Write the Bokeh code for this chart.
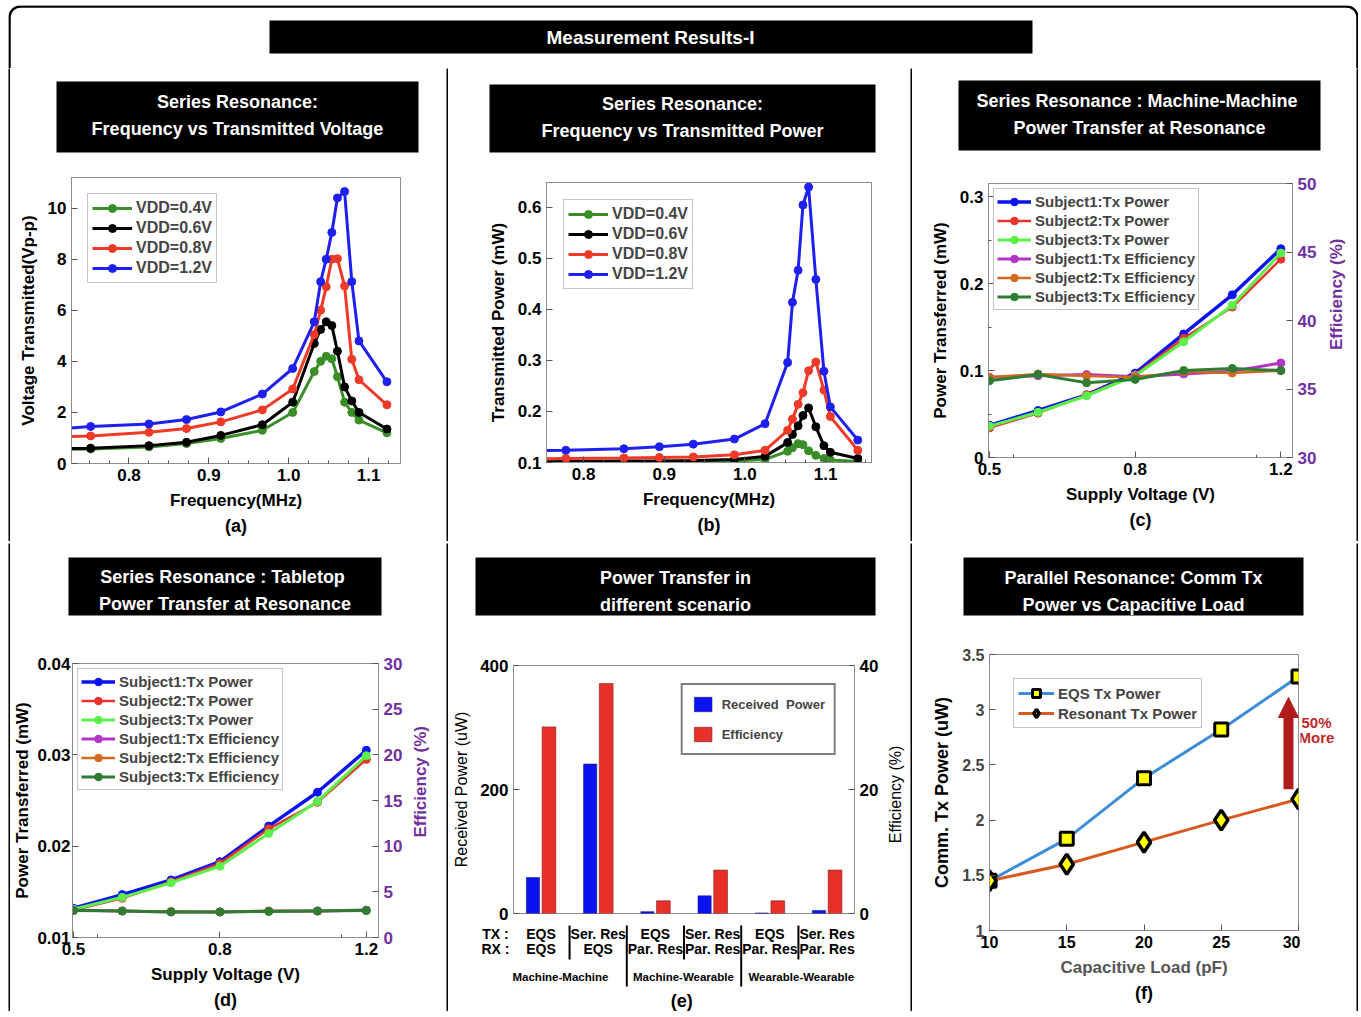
import math
from bokeh.plotting import figure
from bokeh.layouts import column, row
from bokeh.models import (Range1d, LinearAxis, FixedTicker, SingleIntervalTicker, Arrow,
                          NormalHead, Title, NumeralTickFormatter, ColumnDataSource, Spacer)
from bokeh.transform import dodge
from bokeh.core.properties import value
from bokeh.embed import file_html
from bokeh.resources import INLINE

# ---------------------------------------------------------------- data
# (a) Frequency (MHz) vs transmitted voltage (Vp-p)
freq_a = [0.720, 0.752, 0.825, 0.872, 0.915, 0.967, 1.005, 1.032, 1.040, 1.047, 1.054, 1.061, 1.070, 1.079, 1.088, 1.123]
volt_vdd04 = [0.55, 0.57, 0.65, 0.78, 0.98, 1.30, 2.00, 3.60, 4.00, 4.20, 4.10, 3.40, 2.40, 2.00, 1.70, 1.20]
volt_vdd06 = [0.58, 0.60, 0.70, 0.83, 1.10, 1.52, 2.40, 4.70, 5.25, 5.55, 5.40, 4.40, 3.00, 2.45, 2.00, 1.35]
volt_vdd08 = [1.05, 1.08, 1.22, 1.37, 1.63, 2.10, 2.92, 5.05, 6.00, 6.92, 8.00, 8.02, 6.95, 4.08, 3.28, 2.30]
volt_vdd12 = [1.37, 1.45, 1.55, 1.72, 2.02, 2.72, 3.72, 5.55, 7.12, 8.00, 9.05, 10.40, 10.65, 7.12, 4.80, 3.20]

# (b) Frequency (MHz) vs transmitted power (mW)
freq_b = [0.740, 0.778, 0.850, 0.894, 0.936, 0.987, 1.025, 1.053, 1.059, 1.066, 1.072, 1.079, 1.088, 1.098, 1.106, 1.140]
pwr_vdd04 = [0.100, 0.100, 0.100, 0.101, 0.101, 0.103, 0.106, 0.122, 0.129, 0.137, 0.135, 0.123, 0.114, 0.108, 0.105, 0.102]
pwr_vdd06 = [0.101, 0.102, 0.103, 0.103, 0.104, 0.106, 0.112, 0.139, 0.155, 0.172, 0.192, 0.207, 0.170, 0.133, 0.120, 0.108]
pwr_vdd08 = [0.107, 0.108, 0.109, 0.110, 0.111, 0.115, 0.124, 0.163, 0.185, 0.214, 0.237, 0.280, 0.297, 0.242, 0.190, 0.124]
pwr_vdd12 = [0.123, 0.124, 0.127, 0.131, 0.136, 0.146, 0.176, 0.296, 0.414, 0.477, 0.605, 0.640, 0.459, 0.279, 0.209, 0.144]
vdd_labels = ["VDD=0.4V", "VDD=0.6V", "VDD=0.8V", "VDD=1.2V"]

# (c)/(d) supply voltage steps (7 equally spaced measurement points), tick labels
supply_step = [0, 1, 2, 3, 4, 5, 6]
supply_tick_pos = [0, 3, 6]
supply_tick_labels = ["0.5", "0.8", "1.2"]

# (c) Machine-Machine
mm_power_s1 = [0.037, 0.054, 0.072, 0.097, 0.142, 0.187, 0.240]
mm_power_s2 = [0.034, 0.051, 0.072, 0.095, 0.137, 0.173, 0.228]
mm_power_s3 = [0.036, 0.052, 0.071, 0.094, 0.133, 0.175, 0.235]
mm_eff_s1 = [35.85, 35.97, 36.05, 35.90, 36.10, 36.30, 36.90]
mm_eff_s2 = [35.85, 36.10, 35.95, 35.85, 36.25, 36.17, 36.34]
mm_eff_s3 = [35.60, 36.05, 35.45, 35.70, 36.35, 36.50, 36.35]

# (d) Tabletop
tt_power_s1 = [0.0132, 0.0147, 0.0163, 0.0183, 0.0222, 0.0259, 0.0305]
tt_power_s2 = [0.0130, 0.0143, 0.0161, 0.0181, 0.0219, 0.0248, 0.0295]
tt_power_s3 = [0.0131, 0.0144, 0.0160, 0.0178, 0.0214, 0.0249, 0.0299]
tt_eff_s1 = [3.00, 2.90, 2.80, 2.80, 2.90, 2.90, 3.00]
tt_eff_s2 = [2.95, 2.90, 2.85, 2.80, 2.90, 2.90, 2.95]
tt_eff_s3 = [2.95, 2.90, 2.80, 2.80, 2.85, 2.90, 2.95]
subject_labels = ["Subject1:Tx Power", "Subject2:Tx Power", "Subject3:Tx Power",
                  "Subject1:Tx Efficiency", "Subject2:Tx Efficiency", "Subject3:Tx Efficiency"]

# (e) scenarios
scenario_pos = [1, 2, 3, 4, 5, 6]
rx_power = [58, 241, 3, 28.5, 0.8, 5]
rx_efficiency = [30.1, 37.1, 2.05, 7.0, 2.05, 7.0]
tx_labels = ["EQS", "Ser. Res", "EQS", "Ser. Res", "EQS", "Ser. Res"]
rx_labels = ["EQS", "EQS", "Par. Res", "Par. Res", "Par. Res", "Par. Res"]
group_labels = ["Machine-Machine", "Machine-Wearable", "Wearable-Wearable"]

# (f) capacitive load
cap_load = [10, 15, 20, 25, 30]
eqs_tx_power = [1.45, 1.83, 2.38, 2.82, 3.30]
res_tx_power = [1.45, 1.60, 1.80, 2.00, 2.19]

# ---------------------------------------------------------------- style helpers
SANS = "Liberation Sans, Arial, sans-serif"
PURPLE = "#7030a0"
GRAY = "#8c8c8c"


def blank(w, h, xr, yr, **kw):
    f = figure(width=w, height=h, toolbar_location=None, output_backend="svg", min_border=0,
               x_axis_location=None, y_axis_location=None, outline_line_color=None,
               x_range=xr, y_range=yr, **kw)
    f.grid.visible = False
    return f


def solid(w, h):
    return blank(w, h, Range1d(0, 1), Range1d(0, 1), background_fill_color="black",
                 border_fill_color="black")


def header(w, h, box, lines, line_y, fs="18px"):
    f = blank(w, h, Range1d(0, w), Range1d(h, 0))
    f.quad(left=[box[0]], right=[box[1]], top=[box[2]], bottom=[box[3]],
           fill_color="black", line_color=None)
    cx = (box[0] + box[1]) / 2
    f.text(x=[cx] * len(lines), y=line_y, text=lines, text_color="white",
           text_font=value(SANS), text_font_style="bold", text_font_size=fs,
           text_align="center", text_baseline="middle")
    return f


def side_label(w, h, cx, cy, txt, color=PURPLE, fs="17px", style="bold"):
    f = blank(w, h, Range1d(0, w), Range1d(h, 0))
    f.text(x=[cx], y=[cy], text=[txt], angle=math.pi / 2, text_color=color,
           text_font=value(SANS), text_font_style=style, text_font_size=fs,
           text_align="center", text_baseline="middle")
    return f


def base_fig(w, h, xr, yr, left, right, top, bottom):
    p = figure(width=w, height=h, x_range=xr, y_range=yr, toolbar_location=None,
               output_backend="svg", min_border_left=left, min_border_right=right,
               min_border_top=top, min_border_bottom=bottom)
    p.grid.visible = False
    p.outline_line_color = GRAY
    p.outline_line_width = 1
    return p


def style_axis(ax, size="17px", color="black", label_size="17px", label_color=None, style="bold",
               tick_standoff=5, label_standoff=7):
    ax.major_label_text_font = SANS
    ax.major_label_text_font_size = size
    ax.major_label_text_font_style = "bold"
    ax.major_label_text_color = color
    ax.axis_label_text_font = SANS
    ax.axis_label_text_font_size = label_size
    ax.axis_label_text_font_style = style
    ax.axis_label_text_color = label_color or color
    ax.axis_line_color = GRAY
    ax.major_tick_line_color = "#555555"
    ax.minor_tick_line_color = "#555555"
    ax.major_tick_in = 6
    ax.major_tick_out = 0
    ax.minor_tick_in = 3
    ax.minor_tick_out = 0
    ax.major_label_standoff = tick_standoff
    ax.axis_label_standoff = label_standoff


def caption(p, txt):
    p.add_layout(Title(text=txt, align="center", text_font=SANS, text_font_size="18px",
                       text_font_style="bold", text_color="black", standoff=2), "below")


def style_legend(p, loc, margin, font_size, glyph_w, row_h, padding=4, border_color=GRAY, border_w=1):
    lg = p.legend[0]
    lg.location = loc
    lg.margin = margin
    lg.label_text_font = SANS
    lg.label_text_font_size = font_size
    lg.label_text_font_style = "bold"
    lg.glyph_width = glyph_w
    lg.glyph_height = row_h
    lg.label_height = row_h
    lg.spacing = 0
    lg.padding = padding
    lg.label_standoff = 4
    lg.border_line_color = border_color
    lg.border_line_width = border_w


# ---------------------------------------------------------------- top banner (with rounded outer border)
TW, TH, RAD = 1350, 63, 11
top = blank(TW, TH, Range1d(0, TW), Range1d(TH, 0))
corner_l = [(1 + RAD - RAD * math.cos(t * math.pi / 20), 1 + RAD - RAD * math.sin(t * math.pi / 20)) for t in range(11)]
corner_r = [(TW - 1 - RAD + RAD * math.sin(t * math.pi / 20), 1 + RAD - RAD * math.cos(t * math.pi / 20)) for t in range(11)]
bx = [1] + [c[0] for c in corner_l] + [c[0] for c in corner_r] + [TW - 1]
by = [TH] + [c[1] for c in corner_l] + [c[1] for c in corner_r] + [TH]
top.line(x=bx, y=by, line_color="black", line_width=2.5)
top.quad(left=[261], right=[1024], top=[15], bottom=[48], fill_color="black", line_color=None)
top.text(x=[642], y=[32], text=["Measurement Results-I"], text_color="white",
         text_font=value(SANS), text_font_style="bold", text_font_size="19px",
         text_align="center", text_baseline="middle")

# ---------------------------------------------------------------- (a)
ha = header(436, 102, (46, 408, 13, 84), ["Series Resonance:", "Frequency vs Transmitted Voltage"], [33, 60])
pa = base_fig(436, 371, Range1d(0.728, 1.14), Range1d(0, 11.2), 61, 46, 7, 78)
colors_ab = ["#3a8e27", "black", "#f03a28", "#1f1ff0"]
for vals, c, lbl in zip([volt_vdd04, volt_vdd06, volt_vdd08, volt_vdd12], colors_ab, vdd_labels):
    pa.line(freq_a, vals, line_color=c, line_width=3, legend_label=lbl)
    pa.scatter(freq_a, vals, marker="circle", size=8, color=c, legend_label=lbl)
pa.xaxis.ticker = SingleIntervalTicker(interval=0.1, num_minor_ticks=4)
pa.xaxis.formatter = NumeralTickFormatter(format="0.0")
pa.yaxis.ticker = SingleIntervalTicker(interval=2, num_minor_ticks=0)
pa.xaxis.axis_label = "Frequency(MHz)"
pa.yaxis.axis_label = "Voltage Transmitted(Vp-p)"
style_axis(pa.xaxis[0])
style_axis(pa.yaxis[0])
style_legend(pa, "top_left", 16, "16px", 40, 20)
caption(pa, "(a)")

# ---------------------------------------------------------------- (b)
hb = header(462, 102, (41, 427, 16, 84), ["Series Resonance:", "Frequency vs Transmitted Power"], [35, 62])
pb = base_fig(462, 371, Range1d(0.754, 1.157), Range1d(0.1, 0.649), 98, 39, 12, 79)
for vals, c, lbl in zip([pwr_vdd04, pwr_vdd06, pwr_vdd08, pwr_vdd12], colors_ab, vdd_labels):
    pb.line(freq_b, vals, line_color=c, line_width=3, legend_label=lbl)
    pb.scatter(freq_b, vals, marker="circle", size=8, color=c, legend_label=lbl)
pb.xaxis.ticker = SingleIntervalTicker(interval=0.1, num_minor_ticks=4)
pb.xaxis.formatter = NumeralTickFormatter(format="0.0")
pb.yaxis.ticker = SingleIntervalTicker(interval=0.1, num_minor_ticks=0)
pb.yaxis.formatter = NumeralTickFormatter(format="0.0")
pb.xaxis.axis_label = "Frequency(MHz)"
pb.yaxis.axis_label = "Transmitted Power (mW)"
style_axis(pb.xaxis[0])
style_axis(pb.yaxis[0])
style_legend(pb, "top_left", 17, "16px", 40, 20)
caption(pb, "(b)")

# ---------------------------------------------------------------- (c) & (d)
subj_colors = ["#0a14f0", "#e8342a", "#5cf04a", "#b434c8", "#d2691e", "#2e7d32"]
subj_widths = [3.5, 2.5, 3, 3, 2.5, 3]


def supply_panel(w, h, xr, yr, eff_range, borders, powers, effs, ylabel, left_ticks, left_minor,
                 right_ticks, cap, tick_standoff=5, label_standoff=7):
    p = base_fig(w, h, xr, yr, *borders)
    p.extra_y_ranges = {"eff": eff_range}
    for vals, c, lw, lbl in zip(powers, subj_colors[:3], subj_widths[:3], subject_labels[:3]):
        p.line(supply_step, vals, line_color=c, line_width=lw, legend_label=lbl)
        p.scatter(supply_step, vals, marker="circle", size=8, color=c, legend_label=lbl)
    for vals, c, lw, lbl in zip(effs, subj_colors[3:], subj_widths[3:], subject_labels[3:]):
        p.line(supply_step, vals, line_color=c, line_width=lw, legend_label=lbl, y_range_name="eff")
        p.scatter(supply_step, vals, marker="circle", size=8, color=c, legend_label=lbl,
                  y_range_name="eff")
    ax_r = LinearAxis(y_range_name="eff")
    p.add_layout(ax_r, "right")
    p.xaxis.ticker = FixedTicker(ticks=supply_tick_pos, minor_ticks=[0.5, 5.5])
    p.xaxis.major_label_overrides = dict(zip(supply_tick_pos, supply_tick_labels))
    p.xaxis.axis_label = "Supply Voltage (V)"
    p.yaxis[0].ticker = FixedTicker(ticks=left_ticks, minor_ticks=left_minor)
    p.yaxis[0].axis_label = ylabel
    ax_r.ticker = FixedTicker(ticks=right_ticks)
    style_axis(p.xaxis[0])
    style_axis(p.yaxis[0], tick_standoff=tick_standoff, label_standoff=label_standoff)
    style_axis(ax_r, color=PURPLE)
    style_legend(p, "top_left", 5, "15px", 34, 19, padding=3)
    caption(p, cap)
    return p


hc = header(444, 102, (46, 408, 12, 82), ["Series Resonance :  Machine-Machine", "Power Transfer at Resonance"], [32, 59])
pc = supply_panel(410, 371, Range1d(-0.02, 6.24), Range1d(0, 0.315), Range1d(30, 50),
                  (76, 30, 13, 84), [mm_power_s1, mm_power_s2, mm_power_s3],
                  [mm_eff_s1, mm_eff_s2, mm_eff_s3], "Power Transferred (mW)",
                  [0, 0.1, 0.2, 0.3], [0.05, 0.15, 0.25], [30, 35, 40, 45, 50], "(c)")
lc = side_label(34, 371, 14, 150, "Efficiency (%)")

hd = header(436, 102, (58, 371, 14, 72), ["Series Resonance :  Tabletop", "Power Transfer at Resonance"], [33, 60])
pd_ = supply_panel(396, 366, Range1d(-0.02, 6.25), Range1d(0.01, 0.04), Range1d(0, 30),
                   (62, 28, 18, 74), [tt_power_s1, tt_power_s2, tt_power_s3],
                   [tt_eff_s1, tt_eff_s2, tt_eff_s3], "Power Transferred (mW)",
                   [0.01, 0.02, 0.03, 0.04], [], [0, 5, 10, 15, 20, 25, 30], "(d)",
                   tick_standoff=2, label_standoff=2)
ld = side_label(40, 366, 14, 158, "Efficiency (%)")

# ---------------------------------------------------------------- (e)
he = header(462, 102, (27, 427, 14, 72), ["Power Transfer in", "different scenario"], [34, 61])
E_LEFT, E_FRAME_W, E_PAD, E_TOP, E_FRAME_H, E_BELOW = 65, 341, 11, 20, 248, 98
e_xr = Range1d(0.52, 6.48)
pe = base_fig(436, E_TOP + E_FRAME_H + E_PAD, e_xr, Range1d(0, 400), E_LEFT, 30, E_TOP, E_PAD)
pe.extra_y_ranges = {"eff": Range1d(0, 40)}
src_e = ColumnDataSource(dict(pos=scenario_pos, power=rx_power, eff=rx_efficiency))
pe.vbar(x=dodge("pos", -0.14), top="power", width=0.23, source=src_e,
        fill_color="#0a12f0", line_color="#1a1a80", line_width=0.6, legend_label="Received  Power")
pe.vbar(x=dodge("pos", 0.14), top="eff", width=0.24, source=src_e, y_range_name="eff",
        fill_color="#e8302a", line_color="#802020", line_width=0.6, legend_label="Efficiency")
ax_er = LinearAxis(y_range_name="eff")
pe.add_layout(ax_er, "right")
pe.yaxis[0].ticker = FixedTicker(ticks=[0, 200, 400])
ax_er.ticker = FixedTicker(ticks=[0, 20, 40])
pe.yaxis[0].axis_label = "Received Power (uW)"
for ax in (pe.yaxis[0], ax_er):
    style_axis(ax, size="17px", label_size="16px", style="normal")
pe.xaxis.visible = False
lg = pe.legend[0]
lg.location = "top_right"
lg.margin = 18
lg.label_text_font = SANS
lg.label_text_font_size = "13px"
lg.label_text_font_style = "bold"
lg.glyph_width = 22
lg.glyph_height = 18
lg.label_height = 20
lg.label_standoff = 8
lg.spacing = 10
lg.padding = 9
lg.border_line_color = "black"
lg.border_line_width = 2.5
le = side_label(26, E_TOP + E_FRAME_H + E_PAD, 11, 145, "Efficiency (%)", color="black",
                fs="16px", style="normal")

# scenario labels below the bars: same horizontal scale as the bar chart,
# vertical coordinate = pixels below the bar chart's bottom edge
ppu = E_FRAME_W / (e_xr.end - e_xr.start)
eb = blank(462, E_BELOW - E_PAD,
           Range1d(e_xr.start - E_LEFT / ppu, e_xr.start + (462 - E_LEFT) / ppu),
           Range1d(E_BELOW, E_PAD))
tx_x = e_xr.start + (47 - E_LEFT) / ppu
eb.text(x=[tx_x, tx_x], y=[20, 35], text=["TX :", "RX :"], text_font=value(SANS),
        text_font_size="14px", text_font_style="bold", text_align="center", text_baseline="middle")
eb.text(x=scenario_pos, y=[20] * 6, text=tx_labels, text_font=value(SANS), text_font_size="14px",
        text_font_style="bold", text_align="center", text_baseline="middle")
eb.text(x=scenario_pos, y=[35] * 6, text=rx_labels, text_font=value(SANS), text_font_size="14px",
        text_font_style="bold", text_align="center", text_baseline="middle")
eb.text(x=[1.34, 3.49, 5.55], y=[63] * 3, text=group_labels, text_font=value(SANS),
        text_font_size="11.5px", text_font_style="bold", text_align="center", text_baseline="middle")
sep_x = [(a + b) / 2 for a, b in zip(scenario_pos[:-1], scenario_pos[1:])]
eb.segment(x0=sep_x, y0=[E_PAD + 1] * 5, x1=sep_x, y1=[46, 73, 46, 73, 46], line_color="black",
           line_width=2)
eb.text(x=[3.46], y=[87], text=["(e)"], text_font=value(SANS), text_font_size="18px",
        text_font_style="bold", text_align="center", text_baseline="middle")

# ---------------------------------------------------------------- (f)
hf = header(444, 102, (51, 391, 14, 72), ["Parallel Resonance: Comm Tx", "Power vs Capacitive Load"], [34, 61])
pf = base_fig(388, 366, Range1d(10, 30), Range1d(1, 3.5), 77, 2, 9, 81)
pf.line(cap_load, eqs_tx_power, line_color="#3c8dd6", line_width=3, legend_label="EQS Tx Power")
pf.scatter(cap_load, eqs_tx_power, marker="square", size=13, fill_color="#ffff00",
           line_color="black", line_width=3, legend_label="EQS Tx Power")
pf.line(cap_load, res_tx_power, line_color="#d95a20", line_width=3, legend_label="Resonant Tx Power")
pf.scatter(cap_load, res_tx_power, marker="diamond", size=20, fill_color="#ffff00",
           line_color="black", line_width=3.5, legend_label="Resonant Tx Power")
pf.xaxis.ticker = FixedTicker(ticks=cap_load)
pf.yaxis.ticker = FixedTicker(ticks=[1, 1.5, 2, 2.5, 3, 3.5])
pf.yaxis.formatter = NumeralTickFormatter(format="0.[0]")
pf.xaxis.axis_label = "Capacitive Load (pF)"
pf.yaxis.axis_label = "Comm. Tx Power (uW)"
style_axis(pf.xaxis[0], size="16px", label_size="17px", label_color="#555555")
style_axis(pf.yaxis[0], size="16px", color="#444444", label_size="18px", label_color="black")
style_legend(pf, "top_left", 24, "15px", 36, 20)
pf.add_layout(Arrow(x_start=29.35, y_start=2.28, x_end=29.35, y_end=2.96, end=None,
                    line_color="#b01c1c", line_width=10))
pf.add_layout(Arrow(x_start=29.35, y_start=2.90, x_end=29.35, y_end=3.11, line_alpha=0,
                    end=NormalHead(size=20, fill_color="#b01c1c", line_color="#b01c1c")))
caption(pf, "(f)")
lf = blank(56, 366, Range1d(0, 56), Range1d(366, 0))
lf.text(x=[16, 16], y=[90, 110], text=["50%", "More"], text_color="#c0282a",
        text_font=value(SANS), text_font_style="bold", text_font_size="15px",
        text_align="center", text_baseline="middle")

# ---------------------------------------------------------------- layout
row1 = row(solid(2, 473), column(ha, row(pa)), solid(2, 473), column(hb, row(pb)), solid(2, 473),
           column(hc, row(pc, lc)), solid(2, 473))
row2 = row(solid(2, 468), column(hd, row(pd_, ld)), solid(2, 468),
           column(he, row(pe, le), eb), solid(2, 468),
           column(hf, row(pf, lf)), solid(2, 468))
main = column(top, row1, solid(TW, 2), row2, solid(TW, 2))
page = column(Spacer(width=1358, height=5), row(Spacer(width=8, height=1008), main))

open("out.html", "w").write(file_html(page, INLINE))
